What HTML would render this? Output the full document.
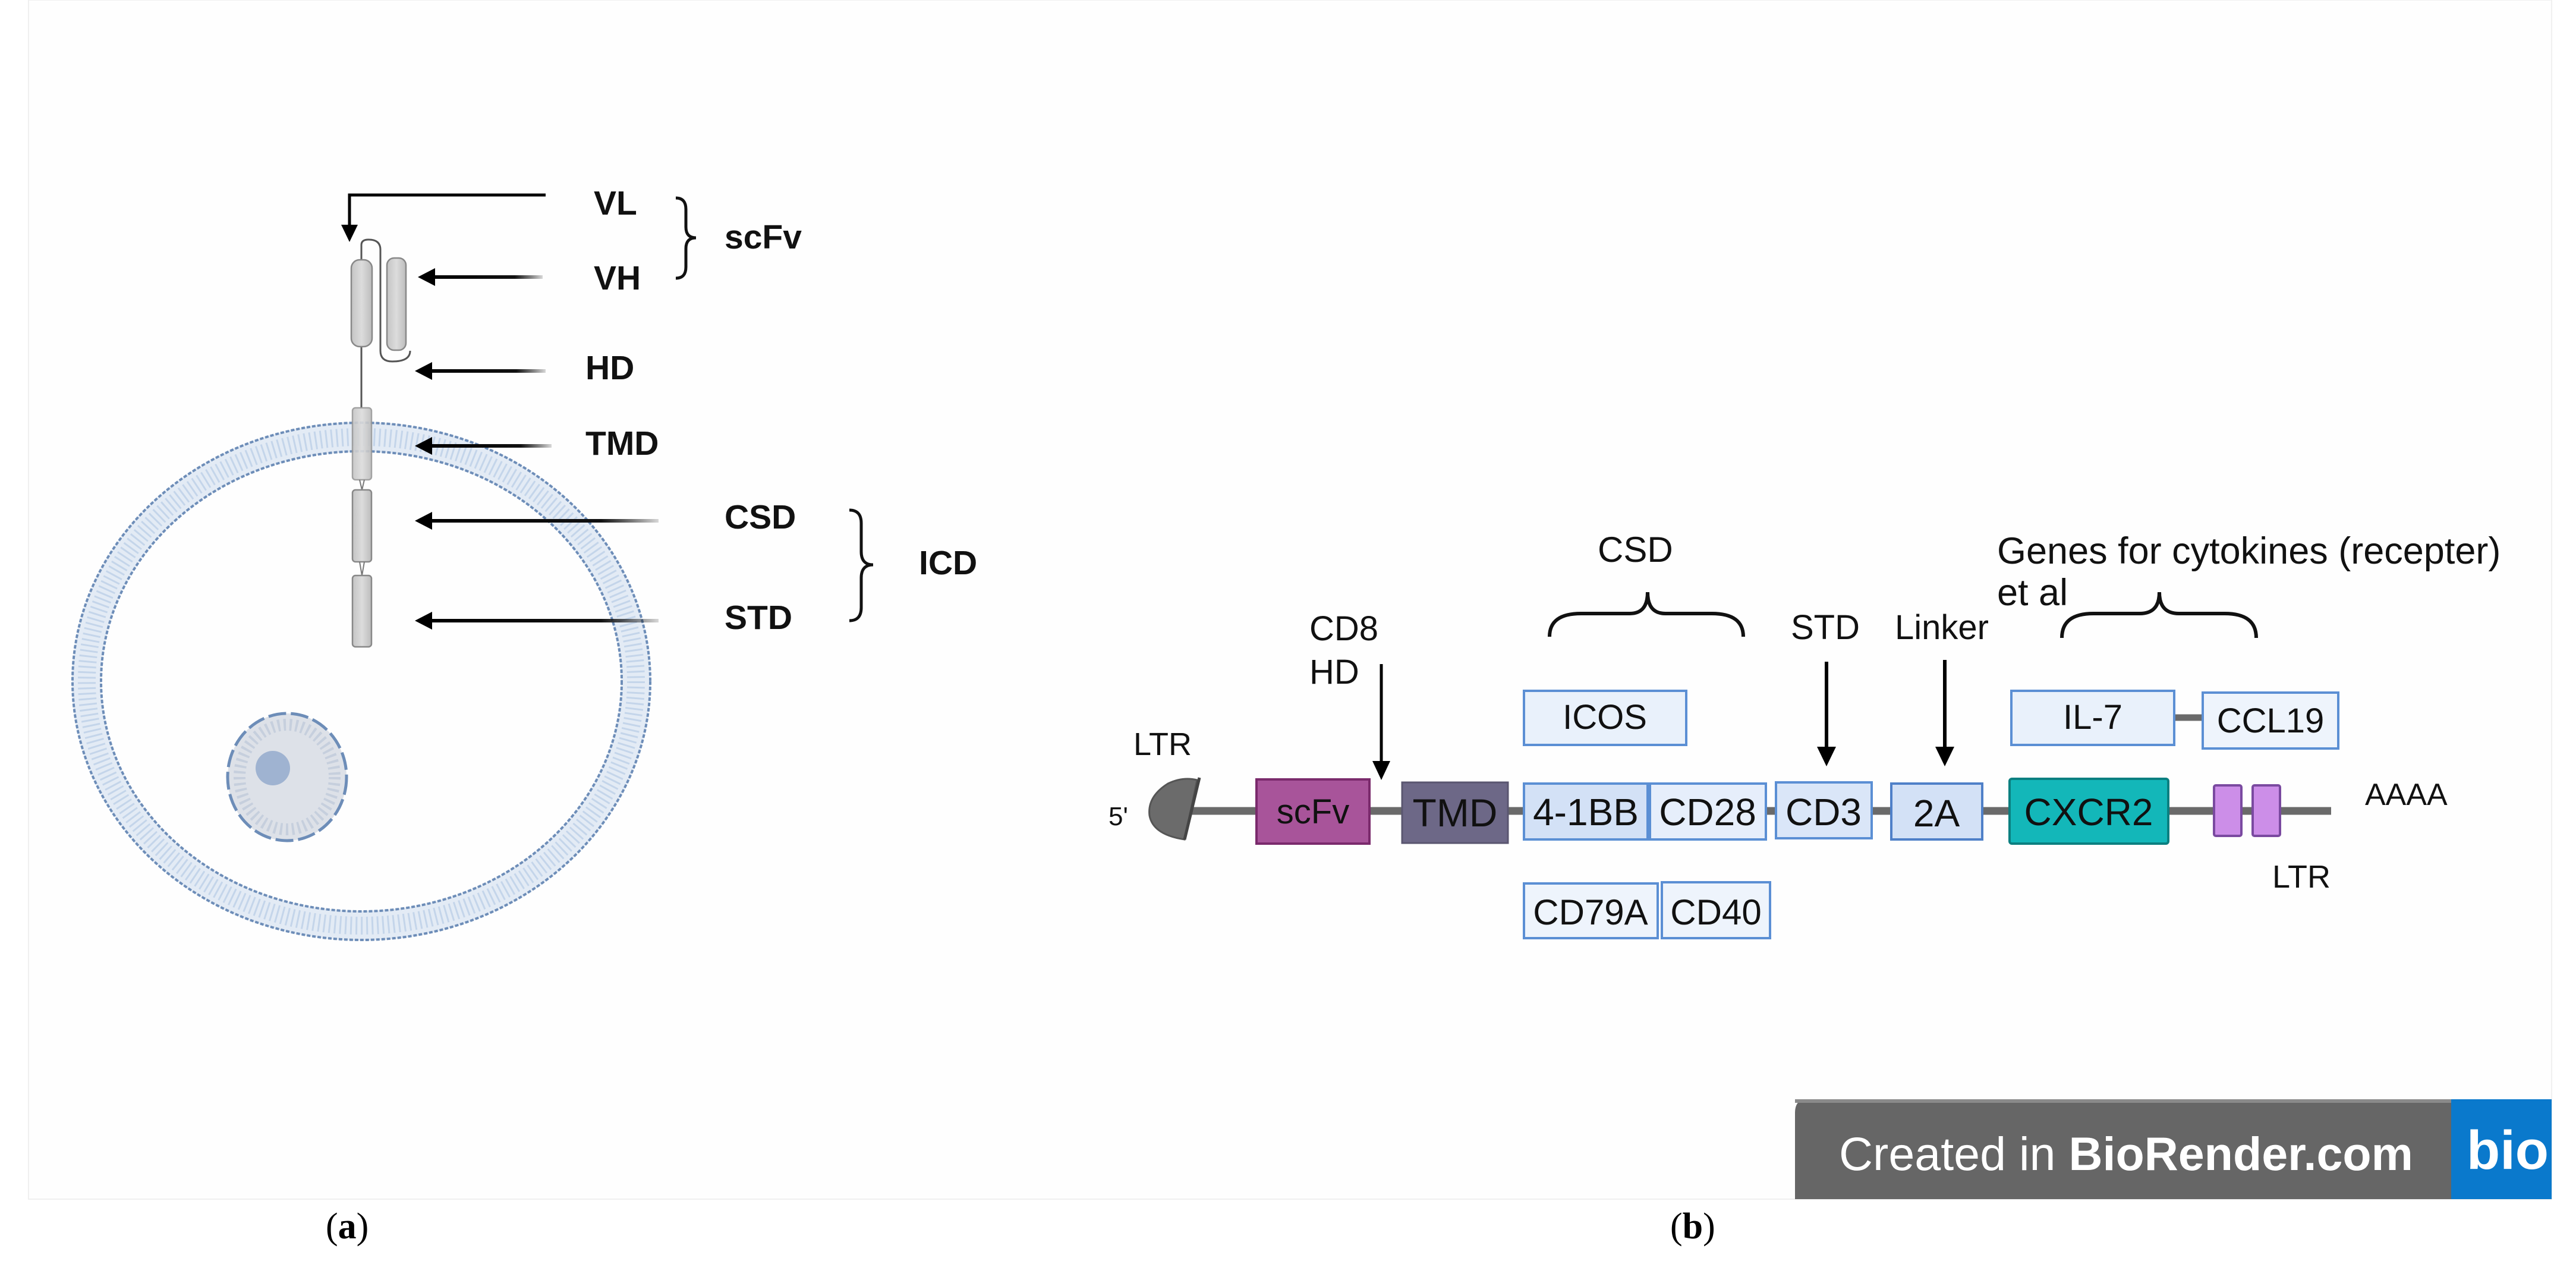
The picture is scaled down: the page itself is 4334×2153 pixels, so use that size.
<!DOCTYPE html>
<html><head><meta charset="utf-8"><style>
html,body{margin:0;padding:0;background:#fff;}
svg{display:block;}
</style></head><body>
<svg width="4334" height="2153" viewBox="0 0 4334 2153" xmlns="http://www.w3.org/2000/svg">
<defs>
<linearGradient id="fadeR" x1="0" x2="1" y1="0" y2="0">
<stop offset="0" stop-color="#000"/><stop offset="0.75" stop-color="#111"/><stop offset="1" stop-color="#000" stop-opacity="0.15"/>
</linearGradient>
<linearGradient id="rod" x1="0" x2="1"><stop offset="0" stop-color="#c4c4c4"/><stop offset="0.5" stop-color="#dcdcdc"/><stop offset="1" stop-color="#bcbcbc"/></linearGradient>
</defs>
<rect x="0" y="0" width="4334" height="2153" fill="#fff"/>
<rect x="48" y="0" width="4245" height="2017" fill="#fefefe" stroke="#f0f0f0" stroke-width="2"/>

<!-- ===== Panel a ===== -->
<ellipse cx="608" cy="1146" rx="462" ry="411" fill="none" stroke="#e3ebf5" stroke-width="50"/>
<ellipse cx="608" cy="1146" rx="462" ry="411" fill="none" stroke="#c4d5ea" stroke-width="30" stroke-dasharray="3 6"/>
<ellipse cx="608" cy="1146" rx="486" ry="435" fill="none" stroke="#6d8db8" stroke-width="4" stroke-dasharray="6 3"/>
<ellipse cx="608" cy="1146" rx="438" ry="387" fill="none" stroke="#6d8db8" stroke-width="4" stroke-dasharray="6 3"/>
<ellipse cx="483" cy="1307" rx="100" ry="107" fill="#dde1e8" stroke="#6d8db8" stroke-width="5" stroke-dasharray="30 8"/>
<ellipse cx="483" cy="1307" rx="80" ry="88" fill="none" stroke="#c6cfdd" stroke-width="20" stroke-dasharray="4 6"/>
<circle cx="459" cy="1292" r="29" fill="#9fb3d1"/>

<path d="M608 437 L608 412 Q608 403 620 403 Q640 403 640 420 L640 590 Q640 608 660 608 Q690 608 690 590" fill="none" stroke="#555" stroke-width="3"/>
<line x1="608" y1="583" x2="608" y2="686" stroke="#555" stroke-width="3"/>
<rect x="591" y="437" width="35" height="146" rx="14" fill="url(#rod)" stroke="#888" stroke-width="2.5"/>
<rect x="651" y="434" width="32" height="155" rx="12" fill="url(#rod)" stroke="#888" stroke-width="2.5"/>
<rect x="593" y="686" width="32" height="121" rx="5" fill="url(#rod)" stroke="#999" stroke-width="2.5" opacity="0.9"/>
<path d="M605 807 L609 824 L613 807" fill="none" stroke="#777" stroke-width="2"/>
<rect x="593" y="824" width="32" height="121" rx="5" fill="url(#rod)" stroke="#888" stroke-width="2.5"/>
<path d="M605 945 L609 968 L613 945" fill="none" stroke="#777" stroke-width="2"/>
<rect x="593" y="968" width="32" height="120" rx="5" fill="url(#rod)" stroke="#888" stroke-width="2.5"/>

<path d="M918 328 L588 328 L588 385" fill="none" stroke="#000" stroke-width="5"/>
<polygon points="574,378 602,378 588,407" fill="#000"/>
<g>
<rect x="725" y="463" width="188" height="6" fill="url(#fadeR)"/>
<polygon points="703,466 732,451 732,481" fill="#000"/>
<rect x="720" y="621" width="198" height="6" fill="url(#fadeR)"/>
<polygon points="698,624 727,609 727,639" fill="#000"/>
<rect x="720" y="747" width="208" height="6" fill="url(#fadeR)"/>
<polygon points="698,750 727,735 727,765" fill="#000"/>
<rect x="720" y="873" width="388" height="6" fill="url(#fadeR)"/>
<polygon points="698,876 727,861 727,891" fill="#000"/>
<rect x="720" y="1041" width="388" height="6" fill="url(#fadeR)"/>
<polygon points="698,1044 727,1029 727,1059" fill="#000"/>
</g>

<g font-family="Liberation Sans, sans-serif" font-weight="bold" font-size="57" fill="#111">
<text x="999" y="361">VL</text>
<text x="999" y="487">VH</text>
<text x="985" y="638">HD</text>
<text x="985" y="765">TMD</text>
<text x="1219" y="889">CSD</text>
<text x="1219" y="1058">STD</text>
<text x="1219" y="418">scFv</text>
<text x="1546" y="966">ICD</text>
</g>
<path d="M1137 333 Q1154 333 1154 352 L1154 382 Q1154 400 1171 400 Q1154 400 1154 418 L1154 449 Q1154 468 1137 468" fill="none" stroke="#111" stroke-width="5"/>
<path d="M1429 858 Q1449 858 1449 880 L1449 928 Q1449 950 1469 950 Q1449 950 1449 972 L1449 1022 Q1449 1044 1429 1044" fill="none" stroke="#111" stroke-width="5"/>

<!-- ===== Panel b ===== -->
<line x1="2003" y1="1364" x2="3922" y2="1364" stroke="#6a6a6a" stroke-width="13"/>
<line x1="3658" y1="1207" x2="3706" y2="1207" stroke="#6a6a6a" stroke-width="11"/>
<path d="M2014 1312 Q1990 1306 1965 1318 Q1930 1340 1934 1372 Q1940 1404 1993 1412 Z" fill="#6b6b6b" stroke="#555" stroke-width="3"/>
<line x1="2018" y1="1308" x2="1993" y2="1412" stroke="#444" stroke-width="5"/>

<g font-family="Liberation Sans, DejaVu Sans, sans-serif" fill="#111">
<text x="1865" y="1388" font-size="44">5'</text>
<text x="1907" y="1270" font-size="54">LTR</text>
<text x="2203" y="1077" font-size="58">CD8</text>
<text x="2203" y="1150" font-size="58">HD</text>
<text x="2688" y="945" font-size="60">CSD</text>
<text x="3013" y="1075" font-size="58">STD</text>
<text x="3188" y="1075" font-size="58">Linker</text>
<text x="3360" y="948" font-size="63">Genes for cytokines (recepter)</text>
<text x="3360" y="1018" font-size="63">et al</text>
<text x="3979" y="1354" font-size="52">AAAA</text>
<text x="3823" y="1493" font-size="54">LTR</text>
</g>

<line x1="2324" y1="1117" x2="2324" y2="1285" stroke="#000" stroke-width="5"/>
<polygon points="2309,1280 2339,1280 2324,1312" fill="#000"/>
<line x1="3073" y1="1113" x2="3073" y2="1262" stroke="#000" stroke-width="6"/>
<polygon points="3057,1256 3089,1256 3073,1289" fill="#000"/>
<line x1="3272" y1="1110" x2="3272" y2="1262" stroke="#000" stroke-width="6"/>
<polygon points="3256,1256 3288,1256 3272,1289" fill="#000"/>

<path d="M2607 1071 Q2607 1032 2660 1032 L2742 1032 Q2772 1032 2772 996 Q2772 1032 2802 1032 L2880 1032 Q2933 1032 2933 1071" fill="none" stroke="#111" stroke-width="6"/>
<path d="M3469 1073 Q3469 1032 3522 1032 L3600 1032 Q3633 1032 3633 996 Q3633 1032 3666 1032 L3743 1032 Q3796 1032 3796 1073" fill="none" stroke="#111" stroke-width="6"/>

<g font-family="Liberation Sans, DejaVu Sans, sans-serif" fill="#111" text-anchor="middle">
<rect x="2114" y="1311" width="190" height="108" fill="#a8549a" stroke="#7a2a6c" stroke-width="4"/>
<text x="2209" y="1385" font-size="58">scFv</text>
<rect x="2359" y="1316" width="178" height="102" fill="#6d6887" stroke="#5a5670" stroke-width="3"/>
<text x="2448" y="1390" font-size="66">TMD</text>
<rect x="2564" y="1162" width="273" height="91" fill="#e9f1fb" stroke="#5b8fd4" stroke-width="4"/>
<text x="2700" y="1226" font-size="58">ICOS</text>
<rect x="2564" y="1318" width="208" height="94" fill="#d3e1f6" stroke="#5b8fd4" stroke-width="4"/>
<text x="2668" y="1388" font-size="64">4-1BB</text>
<rect x="2776" y="1318" width="195" height="94" fill="#e6eefb" stroke="#5b8fd4" stroke-width="4"/>
<text x="2873" y="1388" font-size="64">CD28</text>
<rect x="2988" y="1316" width="161" height="94" fill="#dae6f8" stroke="#5b8fd4" stroke-width="4"/>
<text x="3068" y="1388" font-size="64">CD3</text>
<rect x="3182" y="1318" width="153" height="94" fill="#d3e1f6" stroke="#4f80c8" stroke-width="4"/>
<text x="3258" y="1390" font-size="64">2A</text>
<rect x="2564" y="1486" width="225" height="92" fill="#eef4fc" stroke="#5b8fd4" stroke-width="4"/>
<text x="2676" y="1555" font-size="60">CD79A</text>
<rect x="2796" y="1484" width="182" height="94" fill="#eef4fc" stroke="#5b8fd4" stroke-width="4"/>
<text x="2887" y="1555" font-size="60">CD40</text>
<rect x="3381" y="1310" width="267" height="109" rx="4" fill="#13b7b9" stroke="#0b7f80" stroke-width="4"/>
<text x="3514" y="1388" font-size="64">CXCR2</text>
<rect x="3384" y="1162" width="274" height="91" fill="#e9f1fb" stroke="#5b8fd4" stroke-width="4"/>
<text x="3521" y="1226" font-size="58">IL-7</text>
<rect x="3706" y="1165" width="228" height="94" fill="#eef4fc" stroke="#5b8fd4" stroke-width="4"/>
<text x="3820" y="1232" font-size="58">CCL19</text>
</g>
<rect x="3725" y="1321" width="46" height="85" rx="3" fill="#cc8ee8" stroke="#7a4aa0" stroke-width="4"/>
<rect x="3790" y="1321" width="46" height="85" rx="3" fill="#cc8ee8" stroke="#7a4aa0" stroke-width="4"/>

<path d="M3040 1849 L4124 1849 L4124 2017 L3020 2017 L3020 1872 Q3020 1849 3040 1849 Z" fill="#666"/>
<rect x="3020" y="1849" width="1104" height="6" fill="#8a8a8a"/>
<rect x="4124" y="1849" width="169" height="168" fill="#0a79cc"/>
<text x="3094" y="1968" font-family="Liberation Sans, sans-serif" font-size="79" fill="#fff">Created in <tspan font-weight="bold">BioRender.com</tspan></text>
<text x="4150" y="1966" font-family="Liberation Sans, sans-serif" font-size="92" font-weight="bold" fill="#fff">bio</text>

<g font-family="Liberation Serif, serif" font-size="62" fill="#000">
<text x="548" y="2083">(<tspan font-weight="bold">a</tspan>)</text>
<text x="2810" y="2083">(<tspan font-weight="bold">b</tspan>)</text>
</g>
</svg>
</body></html>
